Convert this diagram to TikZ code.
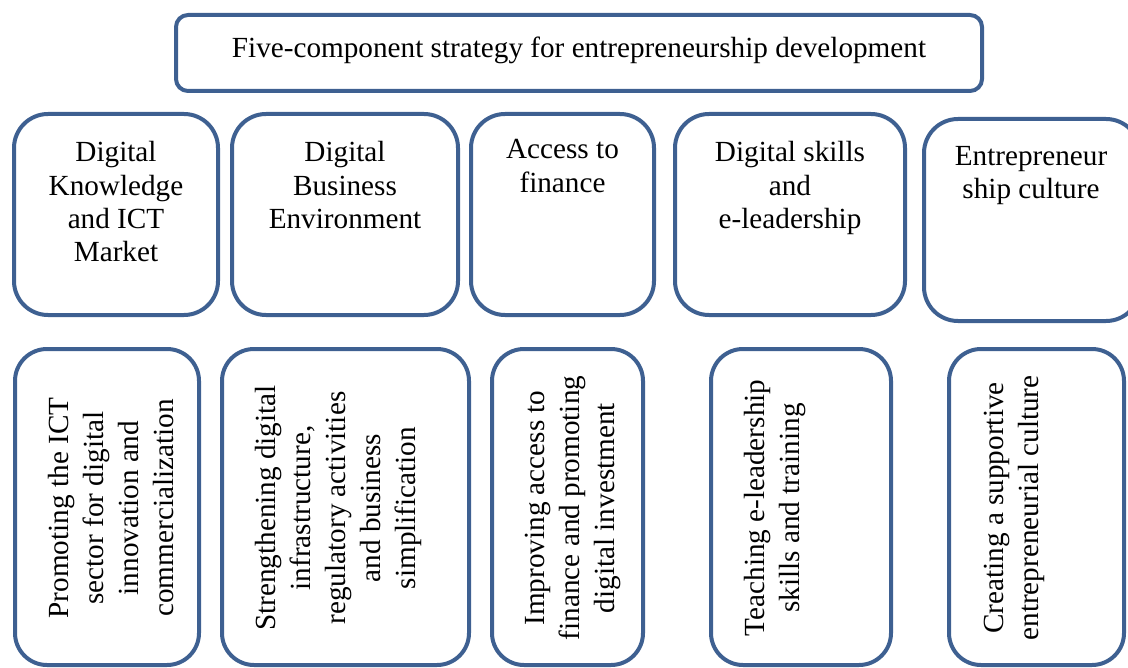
\documentclass[tikz,border=0pt]{standalone}
\usepackage{fontspec}
\setmainfont{Liberation Serif}
\usepackage{tikz}
\definecolor{boxblue}{RGB}{62,96,145}

\begin{document}
\begin{tikzpicture}[x=0.5pt,y=-0.5pt,
	box/.style={draw=boxblue,line width=2pt,rounded corners=#1,shape=rectangle,inner sep=0pt},
	head/.style={inner sep=0pt,align=center,font=\fontsize{14.6}{16.7}\selectfont},
	upright/.style={inner sep=0pt,align=center,anchor=north,font=\fontsize{14.6}{16.7}\selectfont},
	sideways/.style={inner sep=0pt,align=center,anchor=north,rotate=90,font=\fontsize{14.6}{17.5}\selectfont}]
	\useasboundingbox (0,0) rectangle (1128,668);
	
	\node[box=6pt,minimum width=403pt,minimum height=38pt] (t) at (579,53) {};
	\node[head] (tt) at (579,50) {Five-component strategy for entrepreneurship development};
	
	\node[box=17pt,minimum width=102pt,minimum height=100.5pt] (a1) at (116,214.5) {};
	\node[box=17pt,minimum width=113pt,minimum height=100.5pt] (a2) at (345,214.5) {};
	\node[box=17pt,minimum width=91.5pt,minimum height=100.5pt] (a3) at (562.5,214.5) {};
	\node[box=17pt,minimum width=115pt,minimum height=100.5pt] (a4) at (790,214.5) {};
	\node[box=17pt,minimum width=108pt,minimum height=101pt] (a5) at (1032,220) {};
	
	\node[upright] (ta1) at (116,141) {Digital\\Knowledge\\and ICT\\Market};
	\node[upright] (ta2) at (345,141) {Digital\\Business\\Environment};
	\node[upright] (ta3) at (562.5,139) {Access to\\finance};
	\node[upright] (ta4) at (790,141) {Digital skills\\and\\e-leadership};
	\node[upright] (ta5) at (1031,146) {Entrepreneur\\ship culture};
	
	\node[box=16pt,minimum width=92pt,minimum height=158pt] (b1) at (107,507) {};
	\node[box=16pt,minimum width=123.5pt,minimum height=158pt] (b2) at (345.5,507) {};
	\node[box=16pt,minimum width=75.5pt,minimum height=158pt] (b3) at (567.5,507) {};
	\node[box=16pt,minimum width=90pt,minimum height=158pt] (b4) at (801,507) {};
	\node[box=16pt,minimum width=87.5pt,minimum height=158pt] (b5) at (1036.5,507) {};
	
	\node[sideways] (tb1) at (48,508) {Promoting the ICT\\sector for digital\\innovation and\\commercialization};
	\node[sideways] (tb2) at (255,508) {Strengthening digital\\infrastructure,\\regulatory activities\\and business\\simplification};
	\node[sideways] (tb3) at (525,508) {Improving access to\\finance and promoting\\digital investment};
	\node[sideways] (tb4) at (744,508) {Teaching e-leadership\\skills and training};
	\node[sideways] (tb5) at (984,508) {Creating a supportive\\entrepreneurial culture};
\end{tikzpicture}
\end{document}
